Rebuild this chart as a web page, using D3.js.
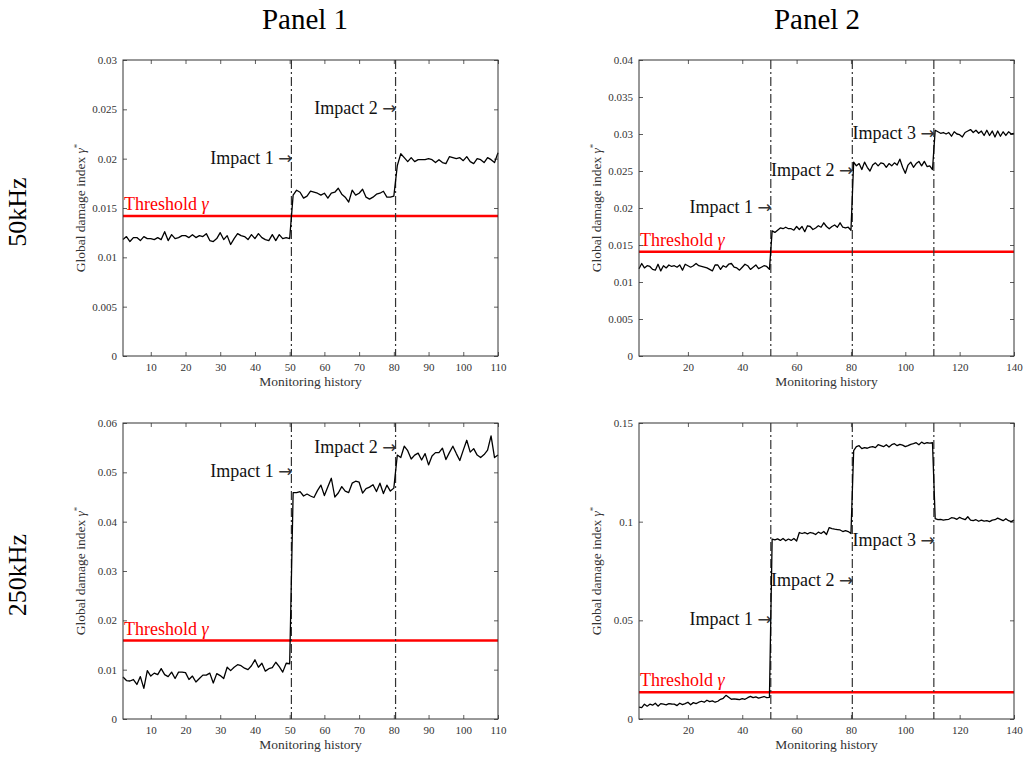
<!DOCTYPE html>
<html>
<head>
<meta charset="utf-8">
<script src="https://cdn.jsdelivr.net/npm/d3@7"></script>
<style>
  body { margin: 0; background: #fff; }
  svg, svg text { font-family: "Liberation Serif", "Times New Roman", "DejaVu Serif", serif; }
</style>
</head>
<body>
<div id="chart"></div>
<script>
// Chart values

var firstCycle = 2;

// 50kHz, panel 1 (cycles 2..110)
var damage50P1 = [
  0.0118, 0.0121, 0.0116, 0.0120, 0.0120, 0.0117, 0.0121, 0.0119, 0.0119, 0.0118,
  0.0120, 0.0118, 0.0126, 0.0117, 0.0123, 0.0119, 0.0120, 0.0122, 0.0122, 0.0120,
  0.0123, 0.0120, 0.0122, 0.0121, 0.0124, 0.0117, 0.0116, 0.0119, 0.0125, 0.0118,
  0.0122, 0.0113, 0.0119, 0.0124, 0.0122, 0.0121, 0.0118, 0.0123, 0.0119, 0.0124,
  0.0120, 0.0118, 0.0117, 0.0123, 0.0117, 0.0123, 0.0119, 0.0120, 0.0119,
  0.0163, 0.0168, 0.0166, 0.0160, 0.0162, 0.0167, 0.0166, 0.0165, 0.0163, 0.0165,
  0.0160, 0.0165, 0.0166, 0.0170, 0.0164, 0.0161, 0.0156, 0.0168, 0.0163, 0.0165,
  0.0169, 0.0161, 0.0159, 0.0161, 0.0164, 0.0165, 0.0167, 0.0161, 0.0161, 0.0162,
  0.0193, 0.0205, 0.0201, 0.0197, 0.0201, 0.0197, 0.0199, 0.0199, 0.0199, 0.0200,
  0.0199, 0.0196, 0.0199, 0.0196, 0.0195, 0.0202, 0.0201, 0.0200, 0.0201, 0.0198,
  0.0202, 0.0197, 0.0195, 0.0200, 0.0199, 0.0196, 0.0201, 0.0199, 0.0196, 0.0206
];

// 50kHz, panel 2 (cycles 2..140)
var damage50P2 = [
  0.0118, 0.0125, 0.0119, 0.0122, 0.0121, 0.0117, 0.0116, 0.0124, 0.0115, 0.0122,
  0.0119, 0.0123, 0.0121, 0.0122, 0.0120, 0.0123, 0.0116, 0.0124, 0.0122, 0.0120,
  0.0122, 0.0125, 0.0122, 0.0121, 0.0120, 0.0119, 0.0117, 0.0115, 0.0123, 0.0123,
  0.0117, 0.0122, 0.0120, 0.0124, 0.0125, 0.0120, 0.0119, 0.0116, 0.0120, 0.0124,
  0.0122, 0.0117, 0.0120, 0.0123, 0.0118, 0.0120, 0.0122, 0.0121, 0.0117,
  0.0169, 0.0167, 0.0170, 0.0173, 0.0172, 0.0174, 0.0172, 0.0172, 0.0170, 0.0175,
  0.0171, 0.0175, 0.0168, 0.0176, 0.0175, 0.0171, 0.0173, 0.0176, 0.0174, 0.0180,
  0.0175, 0.0172, 0.0175, 0.0177, 0.0174, 0.0180, 0.0174, 0.0173, 0.0174, 0.0170,
  0.0262, 0.0257, 0.0260, 0.0252, 0.0262, 0.0255, 0.0250, 0.0258, 0.0261, 0.0257,
  0.0261, 0.0260, 0.0255, 0.0260, 0.0257, 0.0261, 0.0258, 0.0266, 0.0255, 0.0247,
  0.0258, 0.0262, 0.0255, 0.0260, 0.0263, 0.0257, 0.0263, 0.0256, 0.0257, 0.0252,
  0.0305, 0.0303, 0.0301, 0.0302, 0.0300, 0.0302, 0.0297, 0.0303, 0.0300, 0.0299,
  0.0296, 0.0302, 0.0304, 0.0306, 0.0302, 0.0305, 0.0301, 0.0304, 0.0298, 0.0305,
  0.0298, 0.0304, 0.0296, 0.0304, 0.0297, 0.0303, 0.0298, 0.0303, 0.0300, 0.0301
];

// 250kHz, panel 1 (cycles 2..110)
var damage250P1 = [
  0.0085, 0.0078, 0.0077, 0.0080, 0.0070, 0.0086, 0.0062, 0.0098, 0.0087, 0.0093,
  0.0090, 0.0102, 0.0090, 0.0086, 0.0095, 0.0082, 0.0095, 0.0095, 0.0094, 0.0080,
  0.0087, 0.0075, 0.0082, 0.0089, 0.0089, 0.0093, 0.0073, 0.0092, 0.0088, 0.0082,
  0.0105, 0.0098, 0.0105, 0.0110, 0.0108, 0.0103, 0.0100, 0.0108, 0.0120, 0.0105,
  0.0113, 0.0097, 0.0102, 0.0104, 0.0115, 0.0106, 0.0095, 0.0113, 0.0112,
  0.0459, 0.0459, 0.0461, 0.0452, 0.0456, 0.0452, 0.0449, 0.0463, 0.0474, 0.0453,
  0.0471, 0.0488, 0.0450, 0.0458, 0.0471, 0.0462, 0.0459, 0.0478, 0.0482, 0.0480,
  0.0458, 0.0467, 0.0470, 0.0475, 0.0461, 0.0478, 0.0457, 0.0474, 0.0462, 0.0468,
  0.0535, 0.0530, 0.0553, 0.0544, 0.0527, 0.0535, 0.0539, 0.0525, 0.0538, 0.0515,
  0.0533, 0.0540, 0.0540, 0.0549, 0.0526, 0.0540, 0.0553, 0.0538, 0.0524, 0.0545,
  0.0565, 0.0541, 0.0548, 0.0535, 0.0530, 0.0536, 0.0545, 0.0574, 0.0530, 0.0535
];

// 250kHz, panel 2 (cycles 2..140)
var damage250P2 = [
  0.0060, 0.0058, 0.0075, 0.0065, 0.0075, 0.0070, 0.0080, 0.0065, 0.0078, 0.0075,
  0.0072, 0.0078, 0.0076, 0.0075, 0.0068, 0.0080, 0.0073, 0.0078, 0.0085, 0.0072,
  0.0083, 0.0078, 0.0085, 0.0090, 0.0085, 0.0095, 0.0088, 0.0092, 0.0085, 0.0090,
  0.0100, 0.0105, 0.0120, 0.0110, 0.0100, 0.0102, 0.0100, 0.0098, 0.0103, 0.0100,
  0.0108, 0.0115, 0.0108, 0.0112, 0.0106, 0.0110, 0.0114, 0.0108, 0.0110,
  0.0912, 0.0908, 0.0913, 0.0905, 0.0915, 0.0903, 0.0912, 0.0905, 0.0915, 0.0902,
  0.0945, 0.0940, 0.0945, 0.0938, 0.0945, 0.0942, 0.0935, 0.0947, 0.0940, 0.0950,
  0.0935, 0.0970, 0.0965, 0.0962, 0.0960, 0.0958, 0.0950, 0.0955, 0.0950, 0.0940,
  0.1360, 0.1380, 0.1385, 0.1370, 0.1375, 0.1372, 0.1378, 0.1380, 0.1375, 0.1390,
  0.1385, 0.1380, 0.1390, 0.1378, 0.1390, 0.1395, 0.1385, 0.1392, 0.1388, 0.1380,
  0.1385, 0.1392, 0.1395, 0.1400, 0.1390, 0.1403, 0.1395, 0.1400, 0.1398, 0.1400,
  0.1015, 0.1010, 0.1012, 0.1008, 0.1010, 0.1012, 0.1020, 0.1018, 0.1012, 0.1022,
  0.1015, 0.1010, 0.1025, 0.1008, 0.1005, 0.1010, 0.1002, 0.1008, 0.1003, 0.1005,
  0.1000, 0.1008, 0.1010, 0.1018, 0.1012, 0.1005, 0.1015, 0.1005, 0.1000, 0.1008
];

// thresholds
var thresholds = [0.0142, 0.0141, 0.0159, 0.0135];

// impacts: cycle position and label height (gamma)
var impactCycles1 = [50.5, 80.5];
var impactCycles2 = [50.5, 80.5, 110.5];
var impactLabelY50P1 = [0.020, 0.025];
var impactLabelY50P2 = [0.020, 0.025, 0.030];
var impactLabelY250P1 = [0.050, 0.055];
var impactLabelY250P2 = [0.050, 0.070, 0.090];

// ticks
var xTicks1 = [10, 20, 30, 40, 50, 60, 70, 80, 90, 100, 110];
var xTicks2 = [20, 40, 60, 80, 100, 120, 140];
var yTicks50P1 = [0, 0.005, 0.01, 0.015, 0.02, 0.025, 0.03];
var yTicks50P2 = [0, 0.005, 0.01, 0.015, 0.02, 0.025, 0.03, 0.035, 0.04];
var yTicks250P1 = [0, 0.01, 0.02, 0.03, 0.04, 0.05, 0.06];
var yTicks250P2 = [0, 0.05, 0.1, 0.15];

var columnTitles = ["Panel 1", "Panel 2"];
var rowTitles = ["50kHz", "250kHz"];

// Set up the page

var serif = '"Liberation Serif", "Times New Roman", "DejaVu Serif", serif';
var svgWidth = 1024;
var svgHeight = 758;
var plotW = 375;
var plotH = 296;

var svg = d3.select("#chart")
  .append("svg")
  .attr("width", svgWidth)
  .attr("height", svgHeight)
  .attr("font-family", serif);

var panels = [
  {left: 123, top: 60, data: damage50P1, xMax: 110, yMax: 0.03, xTicks: xTicks1, yTicks: yTicks50P1,
   threshold: thresholds[0], impacts: impactCycles1, labelY: impactLabelY50P1},
  {left: 639, top: 60, data: damage50P2, xMax: 140, yMax: 0.04, xTicks: xTicks2, yTicks: yTicks50P2,
   threshold: thresholds[1], impacts: impactCycles2, labelY: impactLabelY50P2},
  {left: 123, top: 423, data: damage250P1, xMax: 110, yMax: 0.06, xTicks: xTicks1, yTicks: yTicks250P1,
   threshold: thresholds[2], impacts: impactCycles1, labelY: impactLabelY250P1},
  {left: 639, top: 423, data: damage250P2, xMax: 140, yMax: 0.15, xTicks: xTicks2, yTicks: yTicks250P2,
   threshold: thresholds[3], impacts: impactCycles2, labelY: impactLabelY250P2}
];

var fmt = function(d) { return String(+d.toFixed(4)); };

panels.forEach(function(p) {
  var g = svg.append("g")
    .attr("transform", `translate(${p.left}, ${p.top})`);

  var x = d3.scaleLinear().domain([firstCycle, p.xMax]).range([0, plotW]);
  var y = d3.scaleLinear().domain([0, p.yMax]).range([plotH, 0]);

  // axes, ticks pointing inward on every side
  var bottom = g.append("g").attr("transform", `translate(0, ${plotH})`)
    .call(d3.axisBottom(x).tickValues(p.xTicks).tickSizeInner(-4).tickSizeOuter(0).tickPadding(7).tickFormat(fmt));
  var top = g.append("g")
    .call(d3.axisTop(x).tickValues(p.xTicks).tickSizeInner(-4).tickSizeOuter(0).tickFormat(""));
  var left = g.append("g")
    .call(d3.axisLeft(y).tickValues(p.yTicks).tickSizeInner(-4).tickSizeOuter(0).tickPadding(6).tickFormat(fmt));
  var right = g.append("g").attr("transform", `translate(${plotW}, 0)`)
    .call(d3.axisRight(y).tickValues(p.yTicks).tickSizeInner(-4).tickSizeOuter(0).tickFormat(""));

  [bottom, top, left, right].forEach(function(a) {
    a.attr("font-family", serif);
    a.select(".domain").remove();
    a.selectAll("line").attr("stroke", "#333").attr("stroke-width", 0.8);
    a.selectAll("text").attr("fill", "#333").style("font-size", "11px");
  });

  // threshold line
  g.append("line")
    .attr("x1", 0).attr("x2", plotW)
    .attr("y1", y(p.threshold)).attr("y2", y(p.threshold))
    .attr("stroke", "#ff0000")
    .attr("stroke-width", 2.5);

  var th = g.append("text")
    .attr("x", 1)
    .attr("y", y(p.threshold) - 6)
    .attr("fill", "#ff0000")
    .style("font-size", "18px");
  th.append("tspan").text("Threshold ");
  th.append("tspan").style("font-style", "italic").text("γ");

  // impact markers
  p.impacts.forEach(function(c, i) {
    g.append("line")
      .attr("x1", x(c)).attr("x2", x(c))
      .attr("y1", 0).attr("y2", plotH)
      .attr("stroke", "#333")
      .attr("stroke-width", 1.2)
      .attr("stroke-dasharray", "9,3,2,3");

    var t = g.append("text")
      .attr("x", x(c) + 1)
      .attr("y", y(p.labelY[i]) + 5)
      .attr("text-anchor", "end")
      .attr("fill", "#111")
      .style("font-size", "18px");
    t.append("tspan").text("Impact " + (i + 1) + " ");
    t.append("tspan")
      .style("font-family", '"DejaVu Sans", sans-serif')
      .style("font-size", "17px")
      .attr("fill", "#333")
      .text("→");
  });

  // damage index line
  var line = d3.line()
    .x(function(d, i) { return x(firstCycle + i); })
    .y(function(d) { return y(d); });

  g.append("path")
    .datum(p.data)
    .attr("fill", "none")
    .attr("stroke", "#000")
    .attr("stroke-width", 1.3)
    .attr("stroke-linejoin", "round")
    .attr("d", line);

  // box
  g.append("rect")
    .attr("width", plotW).attr("height", plotH)
    .attr("fill", "none")
    .attr("stroke", "#333")
    .attr("stroke-width", 1);

  // axis titles
  g.append("text")
    .attr("x", plotW / 2)
    .attr("y", plotH + 30)
    .attr("text-anchor", "middle")
    .attr("fill", "#333")
    .style("font-size", "13.5px")
    .text("Monitoring history");

  g.append("text")
    .attr("transform", `translate(-38, ${plotH / 2}) rotate(-90)`)
    .attr("text-anchor", "middle")
    .attr("fill", "#333")
    .style("font-size", "13.5px")
    .html('Global damage index <tspan style="font-style:italic">γ</tspan><tspan dy="-5" style="font-size:9px">*</tspan>');
});

// panel and row titles
svg.selectAll(".colTitle")
  .data(columnTitles)
  .enter()
  .append("text")
  .attr("class", "colTitle")
  .attr("x", function(d, i) { return i === 0 ? 305 : 817; })
  .attr("y", 29)
  .attr("text-anchor", "middle")
  .style("font-size", "29px")
  .text(function(d) { return d; });

svg.selectAll(".rowTitle")
  .data(rowTitles)
  .enter()
  .append("text")
  .attr("class", "rowTitle")
  .attr("transform", function(d, i) {
    return `translate(26, ${i === 0 ? 212 : 575}) rotate(-90)`;
  })
  .attr("text-anchor", "middle")
  .style("font-size", "26px")
  .text(function(d) { return d; });
</script>
</body>
</html>
